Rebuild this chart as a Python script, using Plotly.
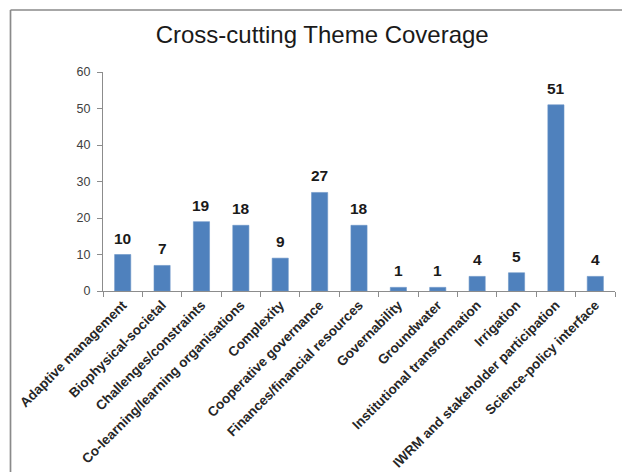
import plotly.graph_objects as go

categories = [
    "Adaptive management", "Biophysical-societal", "Challenges/constraints",
    "Co-learning/learning organisations", "Complexity", "Cooperative governance",
    "Finances/financial resources", "Governability", "Groundwater",
    "Institutional transformation", "Irrigation", "IWRM and stakeholder participation",
    "Science-policy interface",
]
values = [10, 7, 19, 18, 9, 27, 18, 1, 1, 4, 5, 51, 4]
y_ticks = [0, 10, 20, 30, 40, 50, 60]

FONT = "Liberation Sans, Arial, sans-serif"

fig = go.Figure()
fig.add_trace(go.Bar(
    x=categories, y=values,
    marker=dict(color="#4F81BD", line=dict(color="#6A93C6", width=0.6)),
    hoverinfo="skip",
))

for c, v in zip(categories, values):
    fig.add_annotation(x=c, y=v, text=f"<b>{v}</b>", showarrow=False,
                       yanchor="bottom", yshift=6,
                       font=dict(family=FONT, size=15.5, color="#1a1a1a"))

PW, PH = 512, 219
fig.update_layout(
    width=622, height=472,
    margin=dict(l=103, r=7, t=72, b=181),
    paper_bgcolor="white", plot_bgcolor="white",
    bargap=0.59,
    showlegend=False,
    title=dict(text="Cross-cutting Theme Coverage", x=0.518, xanchor="center",
               y=1 - 35 / 472, yanchor="middle",
               font=dict(family=FONT, size=24, color="#1a1a1a")),
    xaxis=dict(
        type="category", tickangle=-45,
        tickfont=dict(family=FONT, size=13.5, color="#262626", weight="bold"),
        showline=True, linecolor="#8c8c8c", linewidth=1,
        ticks="outside", tickson="boundaries", ticklen=5, tickcolor="#8c8c8c",
        showgrid=False, automargin=False,
    ),
    yaxis=dict(
        range=[0, 60], tickvals=y_ticks,
        tickfont=dict(family=FONT, size=12.5, color="#404040"),
        showline=True, linecolor="#8c8c8c", linewidth=1,
        ticks="outside", ticklen=5, tickcolor="#8c8c8c", ticklabelstandoff=4,
        showgrid=False, zeroline=False, automargin=False,
    ),
    shapes=[
        dict(type="line", xref="paper", yref="paper",
             x0=(10.5 - 103) / PW, x1=(640 - 103) / PW,
             y0=1 + (72 - 10) / PH, y1=1 + (72 - 10) / PH,
             line=dict(color="#8a8a8a", width=1.7), layer="below"),
        dict(type="line", xref="paper", yref="paper",
             x0=(10.5 - 103) / PW, x1=(10.5 - 103) / PW,
             y0=1 + (72 - 10) / PH, y1=-(181 + 20) / PH,
             line=dict(color="#8a8a8a", width=1.7), layer="below"),
    ],
)

fig.write_html("out.html", config={"displayModeBar": False},
               post_script="document.body.style.margin='0';document.body.style.overflow='hidden';")
